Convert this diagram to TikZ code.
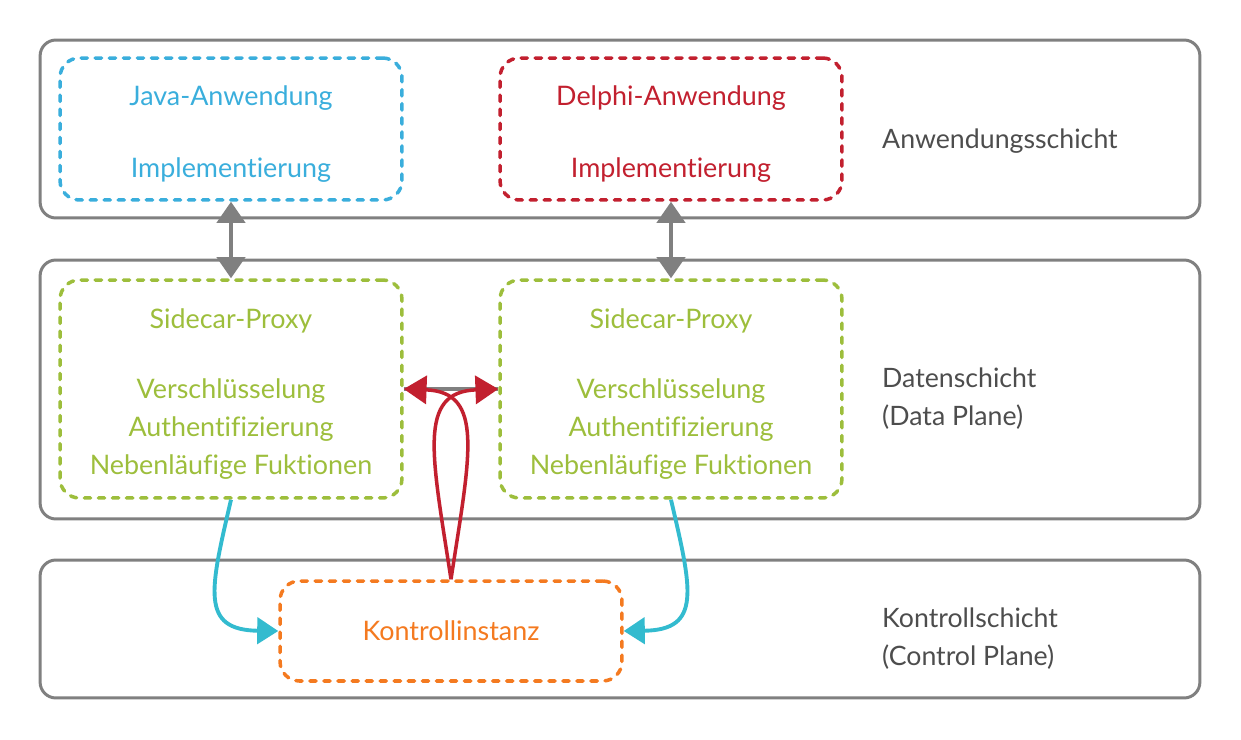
\documentclass[tikz,border=0pt]{standalone}
\usepackage{fontspec}
\setmainfont{Lato}[Ligatures=NoCommon]
\usepackage{tikz}
\usetikzlibrary{shapes,arrows.meta,positioning}
\definecolor{layergray}{HTML}{808080}
\definecolor{textgray}{HTML}{4D4D4D}
\definecolor{javablue}{HTML}{3AAEDC}
\definecolor{delphired}{HTML}{C2202F}
\definecolor{proxygreen}{HTML}{9DBE3C}
\definecolor{ctrlorange}{HTML}{F47A20}
\definecolor{linkcyan}{HTML}{33BBCF}
\newcommand{\topstrut}{\rule{0pt}{17pt}}
\tikzstyle{layer} = [rectangle, draw=layergray, line width=1.7pt, rounded corners=9pt, minimum width=23.2cm]
\tikzstyle{block} = [rectangle, draw, line width=2pt, line cap=round, dash pattern=on 3.6pt off 4.4pt, rounded corners=11pt, minimum width=6.84cm, align=center, font=\fontsize{15.3}{21.5}\selectfont]
\tikzstyle{label} = [anchor=west, align=left, text=textgray, font=\fontsize{15.2}{21.5}\selectfont]
\tikzstyle{grayline} = [draw=layergray, line width=2.2pt, {Triangle[length=12pt,width=16pt]}-{Triangle[length=12pt,width=16pt]}]
\tikzstyle{redline} = [draw=delphired, line width=2pt, -{Triangle[length=13pt,width=16pt]}]
\tikzstyle{cyanline} = [draw=linkcyan, line width=2.2pt, -{Triangle[length=12pt,width=15pt]}]
\begin{document}
\begin{tikzpicture}[x=0.02cm, y=-0.02cm]
\useasboundingbox (0,0) rectangle (1241,740);
% Schichten
\node [layer, minimum height=3.56cm] (apps) at (620,129) {};
\node [layer, minimum height=5.18cm] (data) at (620,389.5) {};
\node [layer, minimum height=2.76cm] (control) at (620,629) {};
% Anwendungen
\node [block, draw=javablue, text=javablue, minimum height=2.84cm] (java) at (231,129) {\topstrut Java-Anwendung\\[19.5pt]Implementierung};
\node [block, draw=delphired, text=delphired, minimum height=2.84cm] (delphi) at (671,129) {\topstrut Delphi-Anwendung\\[19.5pt]Implementierung};
% Sidecars
\node [block, draw=proxygreen, text=proxygreen, minimum height=4.36cm] (proxyA) at (231,389) {\topstrut Sidecar-Proxy\\[18.5pt]Verschlüsselung\\Authentifizierung\\Nebenläufige Fuktionen};
\node [block, draw=proxygreen, text=proxygreen, minimum height=4.36cm] (proxyB) at (671,389) {\topstrut Sidecar-Proxy\\[18.5pt]Verschlüsselung\\Authentifizierung\\Nebenläufige Fuktionen};
% Kontrolle
\node [block, draw=ctrlorange, text=ctrlorange, minimum height=2cm] (ctrl) at (451,631) {Kontrollinstanz};
% Beschriftungen
\node [label] (appsLabel) at (876,141) {Anwendungsschicht};
\node [label] (dataLabel) at (876,399) {Datenschicht\\(Data Plane)};
\node [label] (ctrlLabel) at (876,639) {Kontrollschicht\\(Control Plane)};
% Verbindungen
\path [grayline] (java) -- (proxyA);
\path [grayline] (delphi) -- (proxyB);
\path [draw=layergray, line width=2.2pt] (proxyA) -- (proxyB);
\path [redline] (ctrl.north) .. controls (470,455) and (485,392) .. (proxyA.east);
\path [redline] (ctrl.north) .. controls (432,455) and (417,392) .. (proxyB.west);
\path [cyanline] (proxyA.south) .. controls (210,590) and (200,630) .. (ctrl.west);
\path [cyanline] (proxyB.south) .. controls (692,590) and (702,630) .. (ctrl.east);
\end{tikzpicture}
\end{document}
